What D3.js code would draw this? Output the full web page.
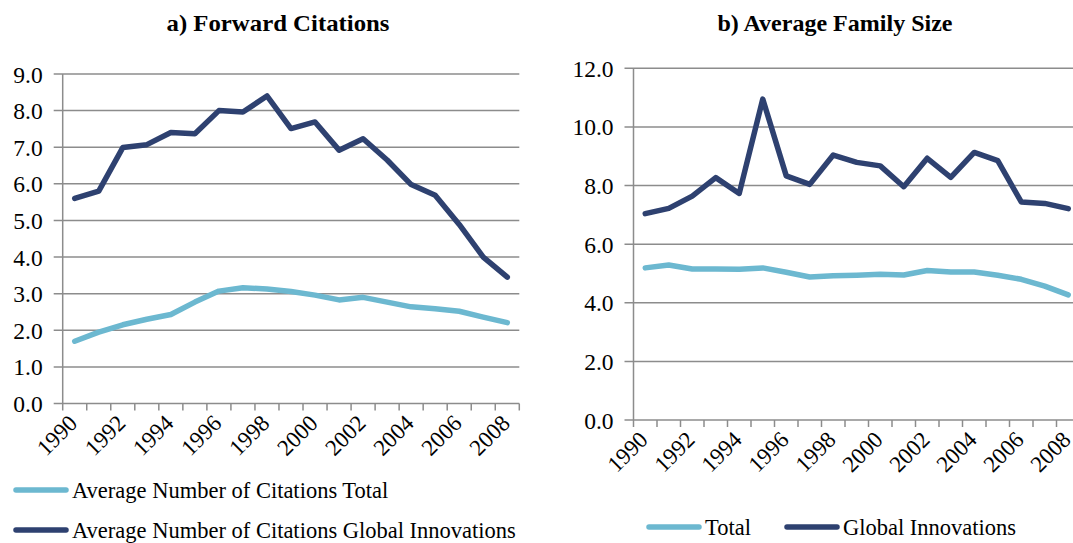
<!DOCTYPE html>
<html>
<head>
<meta charset="utf-8">
<script src="https://cdn.jsdelivr.net/npm/d3@7"></script>
<style>
  body { margin: 0; background: #fff; }
  svg { display: block; }
  svg text { font-family: "Liberation Serif", "Times New Roman", serif; fill: #000; }
</style>
</head>
<body>
<svg width="1073" height="543"></svg>
<script>
// datos
var years = [1990, 1991, 1992, 1993, 1994, 1995, 1996, 1997, 1998, 1999,
             2000, 2001, 2002, 2003, 2004, 2005, 2006, 2007, 2008];

var citTotal = [1.70, 1.95, 2.15, 2.30, 2.43, 2.77, 3.07, 3.16, 3.13, 3.06,
                2.96, 2.83, 2.90, 2.77, 2.64, 2.59, 2.52, 2.36, 2.21];
var citGlobal = [5.60, 5.80, 6.99, 7.07, 7.40, 7.37, 8.00, 7.96, 8.40, 7.51,
                 7.69, 6.92, 7.23, 6.65, 5.98, 5.69, 4.89, 4.00, 3.45];

var famTotal = [5.19, 5.29, 5.15, 5.15, 5.14, 5.19, 5.04, 4.88, 4.92, 4.94,
                4.97, 4.95, 5.10, 5.05, 5.05, 4.94, 4.80, 4.57, 4.27];
var famGlobal = [7.04, 7.22, 7.64, 8.27, 7.73, 10.95, 8.33, 8.04, 9.04, 8.79,
                 8.67, 7.96, 8.93, 8.28, 9.13, 8.85, 7.44, 7.39, 7.21];

var citTicks = [0, 1, 2, 3, 4, 5, 6, 7, 8, 9];
var famTicks = [0, 2, 4, 6, 8, 10, 12];

var lightBlue = "#6cb8d0", darkBlue = "#2e4170", gridCol = "#8c8c8c";

var svg = d3.select("svg");

// dibuja un panel
function panel(cfg) {
  var g = svg.append("g");

  var x = d3.scaleBand().domain(years).range([cfg.x0, cfg.x1]);
  var y = d3.scaleLinear().domain([0, cfg.ymax]).range([cfg.y0, cfg.y1]);

  // titulo
  g.append("text")
    .attr("x", cfg.titleX).attr("y", 31)
    .attr("text-anchor", "middle")
    .attr("font-weight", "bold")
    .attr("font-size", 23)
    .attr("textLength", cfg.titleW)
    .attr("lengthAdjust", "spacingAndGlyphs")
    .text(cfg.title);

  // rejilla
  g.selectAll(".grid").data(cfg.ticks.slice(1)).enter().append("line")
    .attr("x1", cfg.x0 - 9).attr("x2", cfg.gridEnd)
    .attr("y1", function(d) { return y(d); })
    .attr("y2", function(d) { return y(d); })
    .attr("stroke", gridCol).attr("stroke-width", 1.5);

  // eje y
  g.append("line")
    .attr("x1", cfg.x0).attr("x2", cfg.x0)
    .attr("y1", y(0)).attr("y2", y(cfg.ymax))
    .attr("stroke", gridCol).attr("stroke-width", 1.5);
  g.selectAll(".ylab").data(cfg.ticks).enter().append("text")
    .attr("x", cfg.x0 - 20)
    .attr("y", function(d) { return y(d) + 8.5; })
    .attr("text-anchor", "end")
    .attr("font-size", 23.5)
    .text(function(d) { return d3.format(".1f")(d); });

  // eje x
  g.append("line")
    .attr("x1", cfg.x0 - 9).attr("x2", cfg.gridEnd)
    .attr("y1", y(0)).attr("y2", y(0))
    .attr("stroke", gridCol).attr("stroke-width", 1.5);
  var bounds = years.map(function(d) { return x(d); }).concat([cfg.x1]);
  g.selectAll(".xtick").data(bounds).enter().append("line")
    .attr("x1", function(d) { return d; }).attr("x2", function(d) { return d; })
    .attr("y1", y(0)).attr("y2", y(0) + 7)
    .attr("stroke", gridCol).attr("stroke-width", 1.5);
  g.selectAll(".xlab").data(years.filter(function(d) { return d % 2 === 0; }))
    .enter().append("text")
    .attr("transform", function(d) {
      return "translate(" + (x(d) + x.bandwidth() / 2 + 4) + "," + (y(0) + 21) + ") rotate(-45)";
    })
    .attr("text-anchor", "end")
    .attr("font-size", 23)
    .text(function(d) { return d; });

  // lineas
  var line = d3.line()
    .x(function(d, i) { return x(years[i]) + x.bandwidth() / 2; })
    .y(function(d) { return y(d); });

  cfg.series.forEach(function(s) {
    g.append("path")
      .datum(s.values)
      .attr("d", line)
      .attr("fill", "none")
      .attr("stroke", s.color)
      .attr("stroke-width", 5.5)
      .attr("stroke-linejoin", "round")
      .attr("stroke-linecap", "round");
  });

  // leyenda
  cfg.legend.forEach(function(l, i) {
    g.append("line")
      .attr("x1", l.x + 3).attr("x2", l.x + 53)
      .attr("y1", l.y).attr("y2", l.y)
      .attr("stroke", cfg.series[i].color)
      .attr("stroke-width", 5.5)
      .attr("stroke-linecap", "round");
    g.append("text")
      .attr("x", l.x + 59).attr("y", l.y + 8.3)
      .attr("font-size", 22.5)
      .text(cfg.series[i].name);
  });
}

panel({
  title: "a) Forward Citations", titleX: 278, titleW: 223,
  x0: 62.7, x1: 519.3, gridEnd: 519.3,
  y0: 403.5, y1: 74, ymax: 9, ticks: citTicks,
  series: [
    { name: "Average Number of Citations Total", values: citTotal, color: lightBlue },
    { name: "Average Number of Citations Global Innovations", values: citGlobal, color: darkBlue }
  ],
  legend: [{ x: 13, y: 490 }, { x: 13, y: 530 }]
});

panel({
  title: "b) Average Family Size", titleX: 835, titleW: 235,
  x0: 633.5, x1: 1080, gridEnd: 1080,
  y0: 420, y1: 68.3, ymax: 12, ticks: famTicks,
  series: [
    { name: "Total", values: famTotal, color: lightBlue },
    { name: "Global Innovations", values: famGlobal, color: darkBlue }
  ],
  legend: [{ x: 646, y: 527 }, { x: 784, y: 527 }]
});
</script>
</body>
</html>
